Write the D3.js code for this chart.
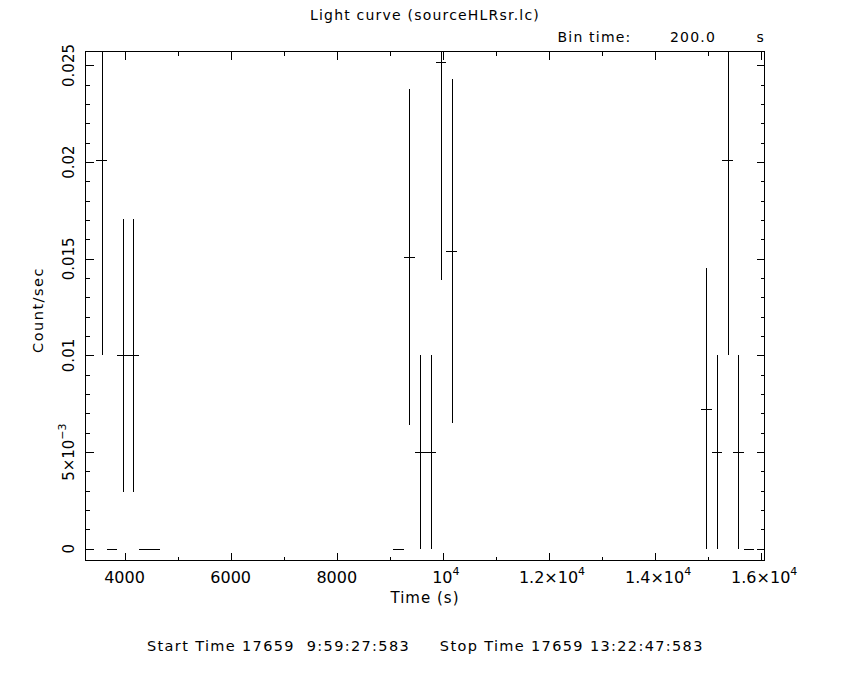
<!DOCTYPE html>
<html>
<head>
<meta charset="utf-8">
<script src="https://cdn.jsdelivr.net/npm/d3@7"></script>
<style>
  html, body { margin: 0; padding: 0; background: #fff; }
  svg { display: block; }
  text { font-family: "DejaVu Sans", sans-serif; fill: #000; white-space: pre; }
</style>
</head>
<body>
<script>
// ---- data ----
const binCenters = [3567, 3767, 3967, 4167, 4367, 4567,
                    9167, 9367, 9567, 9767, 9967, 10167,
                    14967, 15167, 15367, 15567, 15767];
const rates  = [0.0201, 0, 0.01, 0.01, 0, 0,
                0, 0.0151, 0.005, 0.005, 0.0252, 0.0154,
                0.00725, 0.005, 0.0201, 0.005, 0];
const errors = [0.01005, 0, 0.00707, 0.00707, 0, 0,
                0, 0.0087, 0.005, 0.005, 0.0113, 0.0089,
                0.00725, 0.005, 0.01005, 0.005, 0];
const binTime = 200;

const xMajorTicks = [4000, 6000, 8000, 10000, 12000, 14000, 16000];
const xTickLabels = [["4000", ""], ["6000", ""], ["8000", ""], ["10", "4"], ["1.2×10", "4"], ["1.4×10", "4"], ["1.6×10", "4"]];
const xMinorTicks = d3.range(4000, 16001, 1000);
const yMajorTicks = [0, 0.005, 0.01, 0.015, 0.02, 0.025];
const yTickLabels = [["0", ""], ["5×10", "−3"], ["0.01", ""], ["0.015", ""], ["0.02", ""], ["0.025", ""]];
const yMinorTicks = d3.range(0, 26).map(i => i / 1000);

const titleText = "Light curve (sourceHLRsr.lc)";
const binLabel = "Bin time:", binValue = "200.0", binUnit = "s";
const xLabel = "Time (s)", yLabel = "Count/sec";
const footer = "Start Time 17659  9:59:27:583     Stop Time 17659 13:22:47:583";

// ---- layout ----
const W = 850, H = 680;
const L = 85.5, R = 764.5, T = 51.5, B = 560.5;
const x = d3.scaleLinear().domain([3264, 16062]).range([L, R]);
const y = d3.scaleLinear().domain([-0.000605, 0.025724]).range([B, T]);

const svg = d3.select("body").append("svg").attr("width", W).attr("height", H);

svg.append("defs").append("clipPath").attr("id", "clip")
  .append("rect").attr("x", L).attr("y", T).attr("width", R - L).attr("height", B - T);

const axG = svg.append("g").attr("stroke", "#000").attr("fill", "none")
  .attr("stroke-width", 1).attr("shape-rendering", "crispEdges");

function styleAxis(g) { g.select(".domain").remove(); g.selectAll("line").attr("stroke", "#000"); g.selectAll("text").remove(); }

// bottom & top ticks (inward)
[[d3.axisBottom, B, -4, xMinorTicks], [d3.axisBottom, B, -8, xMajorTicks],
 [d3.axisTop, T, -4, xMinorTicks], [d3.axisTop, T, -8, xMajorTicks]].forEach(([fn, pos, len, ticks]) => {
  axG.append("g").attr("transform", `translate(0,${pos})`)
    .call(fn(x).tickValues(ticks).tickSize(len).tickFormat("")).call(styleAxis);
});
[[d3.axisLeft, L, -4, yMinorTicks], [d3.axisLeft, L, -8, yMajorTicks],
 [d3.axisRight, R, -4, yMinorTicks], [d3.axisRight, R, -8, yMajorTicks]].forEach(([fn, pos, len, ticks]) => {
  axG.append("g").attr("transform", `translate(${pos},0)`)
    .call(fn(y).tickValues(ticks).tickSize(len).tickFormat("")).call(styleAxis);
});
axG.append("rect").attr("x", L).attr("y", T).attr("width", R - L).attr("height", B - T);

// ---- data marks ----
const data = binCenters.map((t, i) => ({ t, v: rates[i], e: errors[i] }));
const dg = svg.append("g").attr("clip-path", "url(#clip)").attr("stroke", "#000")
  .attr("stroke-width", 1).attr("shape-rendering", "crispEdges");
dg.selectAll("line.h").data(data).join("line").attr("class", "h")
  .attr("x1", d => x(d.t - binTime / 2)).attr("x2", d => x(d.t + binTime / 2))
  .attr("y1", d => Math.round(y(d.v)) + 0.5).attr("y2", d => Math.round(y(d.v)) + 0.5);
dg.selectAll("line.v").data(data.filter(d => d.e > 0)).join("line").attr("class", "v")
  .attr("x1", d => Math.round(x(d.t)) + 0.5).attr("x2", d => Math.round(x(d.t)) + 0.5)
  .attr("y1", d => y(d.v - d.e)).attr("y2", d => y(d.v + d.e));

// ---- tick labels ----
const xl = svg.append("g");
xMajorTicks.forEach((t, i) => {
  const tx = xl.append("text").attr("x", x(t) + (xTickLabels[i][1] ? 3 : 0)).attr("y", 582.5)
    .attr("text-anchor", "middle").attr("font-size", 16);
  tx.append("tspan").text(xTickLabels[i][0]);
  if (xTickLabels[i][1]) tx.append("tspan").attr("font-size", 11).attr("dy", -8).text(xTickLabels[i][1]);
});
yMajorTicks.forEach((v, i) => {
  const tx = svg.append("text").attr("transform", `translate(74,${y(v)}) rotate(-90)`)
    .attr("text-anchor", "middle").attr("font-size", 15);
  tx.append("tspan").text(yTickLabels[i][0]);
  if (yTickLabels[i][1]) tx.append("tspan").attr("font-size", 11).attr("dy", -8).text(yTickLabels[i][1]);
});

// ---- titles ----
svg.append("text").attr("x", 425).attr("y", 20).attr("text-anchor", "middle")
  .attr("font-size", 14).attr("letter-spacing", 1.2).text(titleText);
svg.append("text").attr("x", 557.5).attr("y", 42).attr("font-size", 14).attr("letter-spacing", 1.2).text(binLabel);
svg.append("text").attr("x", 670).attr("y", 42).attr("font-size", 14).attr("letter-spacing", 1.2).text(binValue);
svg.append("text").attr("x", 756.5).attr("y", 42).attr("font-size", 14).text(binUnit);
svg.append("text").attr("x", 425).attr("y", 603).attr("text-anchor", "middle")
  .attr("font-size", 15).attr("letter-spacing", 1).text(xLabel);
svg.append("text").attr("transform", "translate(43,310) rotate(-90)").attr("text-anchor", "middle")
  .attr("font-size", 14.5).attr("letter-spacing", 1.5).text(yLabel);
svg.append("text").attr("x", 147).attr("y", 651).attr("font-size", 14.5)
  .attr("letter-spacing", 1.35).text(footer);
</script>
</body>
</html>
